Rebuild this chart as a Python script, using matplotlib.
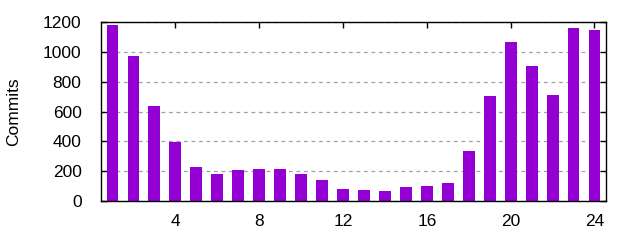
import numpy as np
import matplotlib
matplotlib.use('Agg')
import matplotlib.pyplot as plt

plt.rcParams['font.family'] = ['Liberation Sans', 'DejaVu Sans']
plt.rcParams['font.size'] = 12.5

hours = list(range(1, 25))
commits = [1182, 974, 638, 396, 228, 181, 208, 215, 215, 181, 141, 81,
           74, 67, 94, 101, 121, 336, 705, 1068, 907, 712, 1162, 1148]
xticks = [4, 8, 12, 16, 20, 24]
yticks = [0, 200, 400, 600, 800, 1000, 1200]

fig = plt.figure(figsize=(6.4, 2.4), dpi=100)
ax = fig.add_axes([101/640, 1 - 201/240, (606 - 101)/640, (201 - 22)/240])

ax.bar(hours, commits, width=0.57, color='#9400d3', zorder=3)

ax.set_xlim(0.45, 24.55)
ax.set_ylim(0, 1200)
ax.set_xticks(xticks)
ax.set_yticks(yticks)
ax.yaxis.grid(True, linestyle=(0, (3, 3)), color='#a0a0a0', linewidth=0.9, zorder=0)
ax.tick_params(direction='in', top=True, right=True, length=4, width=1, labelcolor='black')
ax.tick_params(axis='y', pad=14)
ax.tick_params(axis='x', pad=9)
for s in ax.spines.values():
    s.set_linewidth(1)
    s.set_zorder(4)
ax.set_ylabel('Commits', labelpad=16)

plt.savefig('out.png', dpi=100)
